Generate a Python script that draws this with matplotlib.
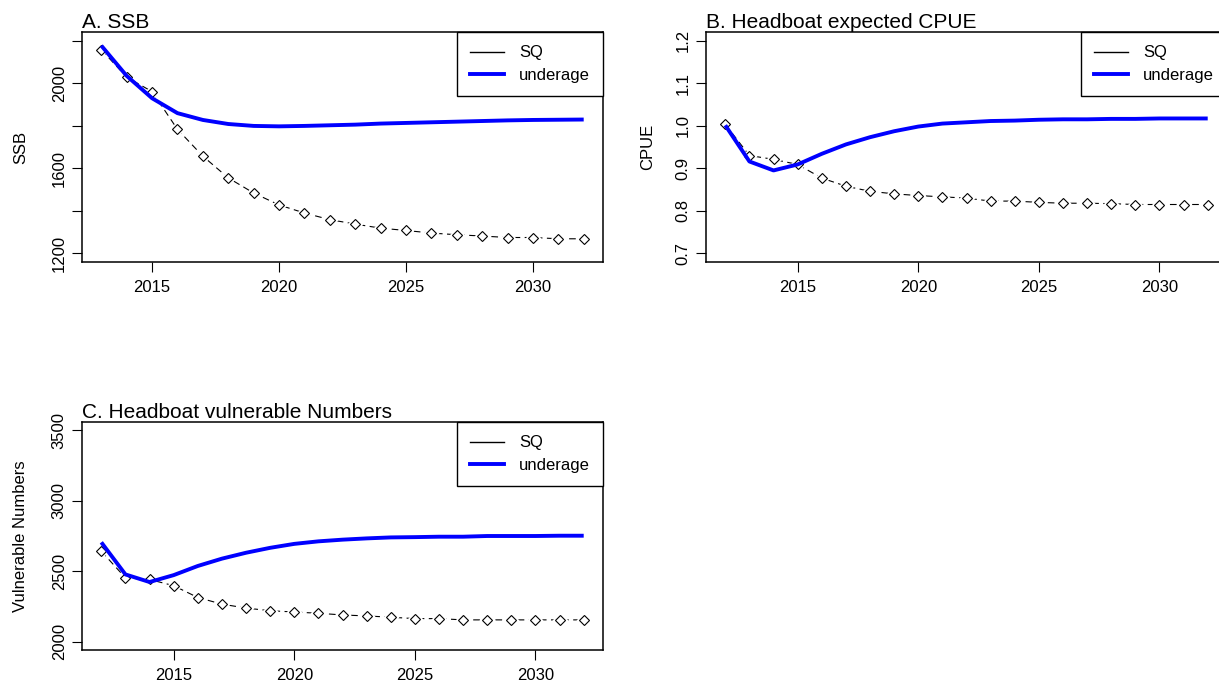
import matplotlib.pyplot as plt
from matplotlib.lines import Line2D

plt.rcParams['font.family'] = ['Liberation Sans', 'DejaVu Sans']

# Panel A: spawning stock biomass (starts 2013)
years_a = list(range(2013, 2033))
ssb_sq = [2157, 2028, 1960, 1783, 1657, 1555, 1484, 1428, 1390, 1359,
          1338, 1319, 1308, 1296, 1288, 1282, 1275, 1275, 1269, 1269]
ssb_under = [2176, 2034, 1929, 1859, 1827, 1808, 1799, 1797, 1799, 1802,
             1805, 1810, 1813, 1816, 1819, 1822, 1825, 1827, 1828, 1829]

# Panels B and C start 2012
years = list(range(2012, 2033))
cpue_sq = [1.003, 0.930, 0.921, 0.909, 0.877, 0.858, 0.846, 0.840, 0.836, 0.833, 0.830,
           0.823, 0.823, 0.820, 0.818, 0.818, 0.817, 0.815, 0.815, 0.815, 0.815]
cpue_under = [1.001, 0.916, 0.895, 0.909, 0.934, 0.956, 0.973, 0.987, 0.998, 1.005, 1.008,
              1.011, 1.012, 1.014, 1.015, 1.015, 1.016, 1.016, 1.017, 1.017, 1.017]

vuln_sq = [2642, 2453, 2441, 2397, 2313, 2266, 2238, 2219, 2210, 2201, 2189,
           2182, 2173, 2163, 2163, 2154, 2154, 2154, 2154, 2154, 2154]
vuln_under = [2705, 2477, 2423, 2472, 2537, 2589, 2631, 2666, 2694, 2712, 2724,
              2733, 2740, 2742, 2745, 2745, 2750, 2750, 2750, 2752, 2752]

legend_labels = ['SQ', 'underage']

fig = plt.figure(figsize=(12.19, 6.90), dpi=100)
W, H = 1219, 690
ax_a = fig.add_axes([82 / W, 428 / H, 521 / W, 230 / H])
ax_b = fig.add_axes([706 / W, 428 / H, 521 / W, 230 / H])  # runs past the right edge
ax_c = fig.add_axes([82 / W, 40 / H, 521 / W, 228 / H])


def panel(ax, x, sq, under, title, ylabel, ylim, yticks, ylabels, label_x):
    ax.plot(x, sq, color='black', lw=0.8, dashes=(6, 4), zorder=2)
    # white patches to open gaps round the points, like R type="b"
    ax.plot(x, sq, ls='none', marker='D', ms=8.5, mfc='white', mec='none', zorder=2.5)
    ax.plot(x, sq, ls='none', marker='D', ms=5.5, mfc='white', mec='black', mew=0.8, zorder=3)
    ax.plot(x, under, color='blue', lw=2.8, zorder=4, solid_capstyle='butt')

    span = x[-1] - x[0]
    ax.set_xlim(x[0] - 0.04 * span, x[-1] + 0.04 * span)
    r = ylim[1] - ylim[0]
    ax.set_ylim(ylim[0] - 0.04 * r, ylim[1] + 0.04 * r)
    ax.set_xticks([2015, 2020, 2025, 2030])
    ax.set_yticks(yticks, ylabels)
    for lab in ax.get_yticklabels():
        lab.set_rotation(90)
        lab.set_va('center')
    ax.tick_params(direction='out', length=7, width=0.8, labelsize=12, colors='black')
    ax.tick_params(axis='x', pad=6)
    ax.tick_params(axis='y', pad=4)
    for s in ax.spines.values():
        s.set_linewidth(1.1)
        s.set_color('black')

    ax.set_title(title, loc='left', fontsize=15, pad=3)
    ax.set_ylabel(ylabel, fontsize=12)
    ax.yaxis.set_label_coords(label_x, 0.5)

    handles = [Line2D([], [], color='black', lw=1.0),
               Line2D([], [], color='blue', lw=2.8)]
    leg = ax.legend(handles, legend_labels, loc='upper right', fontsize=12,
                    frameon=True, fancybox=False, edgecolor='black', framealpha=1,
                    borderaxespad=0, handlelength=2.0, handletextpad=0.9,
                    borderpad=0.8, labelspacing=0.45)
    leg.get_frame().set_linewidth(1.0)
    leg.set_zorder(5)


panel(ax_a, years_a, ssb_sq, ssb_under, 'A. SSB', 'SSB', (1200, 2200),
      [1200, 1400, 1600, 1800, 2000, 2200], ['1200', '', '1600', '', '2000', ''], -0.104)
panel(ax_b, years, cpue_sq, cpue_under, 'B. Headboat expected CPUE', 'CPUE', (0.7, 1.2),
      [0.7, 0.8, 0.9, 1.0, 1.1, 1.2], ['0.7', '0.8', '0.9', '1.0', '1.1', '1.2'], -0.098)
panel(ax_c, years, vuln_sq, vuln_under, 'C. Headboat vulnerable Numbers', 'Vulnerable Numbers',
      (2000, 3500), [2000, 2500, 3000, 3500], ['2000', '2500', '3000', '3500'], -0.104)

fig.savefig('out.png', dpi=100)
